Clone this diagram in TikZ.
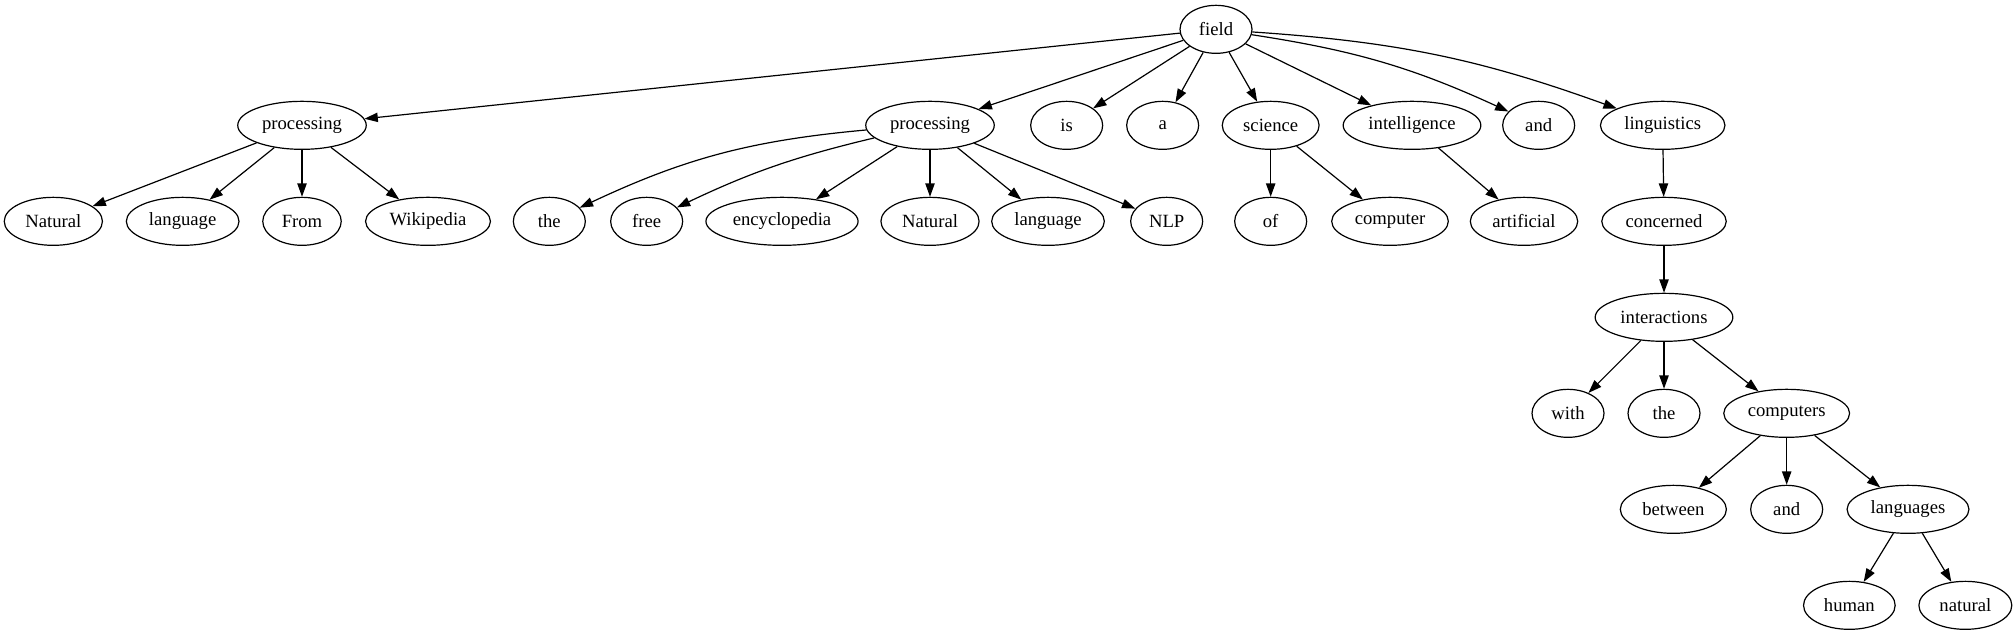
\documentclass[tikz,border=0pt]{standalone}
\usepackage{fontspec}
\setmainfont{Liberation Serif}
\usetikzlibrary{shapes.geometric,arrows.meta}
\tikzset{
  wd/.style={draw, ellipse, line width=0.9pt, inner sep=0pt, minimum height=36pt,
    minimum width={max(54pt,1.27*(width("#1")+16pt))}, node contents={#1}},
  edge/.style={-{Triangle[length=10pt,width=7pt]}, line width=0.9pt}
}
\begin{document}
\begin{tikzpicture}
\fontsize{14pt}{16.8pt}\selectfont
\useasboundingbox (0,0) rectangle (1511.25pt,-476.25pt);
% rank 0
\node (field) at (912pt,-22pt) [wd=field];
% rank 1
\node (pL) at (226.5pt,-94pt) [wd=processing];
\node (pM) at (697.5pt,-94pt) [wd=processing];
\node (is) at (800pt,-94pt) [wd=is];
\node (a) at (872pt,-94pt) [wd=a];
\node (sci) at (953pt,-94pt) [wd=science];
\node (intel) at (1059pt,-94pt) [wd=intelligence];
\node (and1) at (1154pt,-94pt) [wd=and];
\node (ling) at (1247pt,-94pt) [wd=linguistics];
% rank 2
\node (nat1) at (40pt,-166pt) [wd=Natural];
\node (lang1) at (137pt,-166pt) [wd=language];
\node (from) at (226.5pt,-166pt) [wd=From];
\node (wiki) at (321pt,-166pt) [wd=Wikipedia];
\node (the1) at (412pt,-166pt) [wd=the];
\node (free) at (485pt,-166pt) [wd=free];
\node (ency) at (586.5pt,-166pt) [wd=encyclopedia];
\node (nat2) at (697.5pt,-166pt) [wd=Natural];
\node (lang2) at (786pt,-166pt) [wd=language];
\node (nlp) at (875pt,-166pt) [wd=NLP];
\node (of) at (953pt,-166pt) [wd=of];
\node (comp) at (1042.5pt,-166pt) [wd=computer];
\node (arti) at (1143pt,-166pt) [wd=artificial];
\node (conc) at (1248pt,-166pt) [wd=concerned];
% rank 3
\node (inter) at (1248pt,-238pt) [wd=interactions];
% rank 4
\node (with) at (1176pt,-310pt) [wd=with];
\node (the2) at (1248pt,-310pt) [wd=the];
\node (comps) at (1340pt,-310pt) [wd=computers];
% rank 5
\node (betw) at (1255pt,-382pt) [wd=between];
\node (and2) at (1340pt,-382pt) [wd=and];
\node (langs) at (1431pt,-382pt) [wd=languages];
% rank 6
\node (human) at (1387pt,-454pt) [wd=human];
\node (natural) at (1474pt,-454pt) [wd=natural];
% edges
\draw[edge] (field) -- (pL);
\draw[edge] (field) -- (pM);
\draw[edge] (field) -- (is);
\draw[edge] (field) -- (a);
\draw[edge] (field) -- (sci);
\draw[edge] (field) -- (intel);
\draw[edge] (field) to[bend left=8] (and1);
\draw[edge] (field) to[bend left=8] (ling);
\draw[edge] (pL) -- (nat1);
\draw[edge] (pL) -- (lang1);
\draw[edge] (pL) -- (from);
\draw[edge] (pL) -- (wiki);
\draw[edge] (pM) to[bend right=10] (the1);
\draw[edge] (pM) to[bend right=6] (free);
\draw[edge] (pM) -- (ency);
\draw[edge] (pM) -- (nat2);
\draw[edge] (pM) -- (lang2);
\draw[edge] (pM) -- (nlp);
\draw[edge] (sci) -- (of);
\draw[edge] (sci) -- (comp);
\draw[edge] (intel) -- (arti);
\draw[edge] (ling) -- (conc);
\draw[edge] (conc) -- (inter);
\draw[edge] (inter) -- (with);
\draw[edge] (inter) -- (the2);
\draw[edge] (inter) -- (comps);
\draw[edge] (comps) -- (betw);
\draw[edge] (comps) -- (and2);
\draw[edge] (comps) -- (langs);
\draw[edge] (langs) -- (human);
\draw[edge] (langs) -- (natural);
\end{tikzpicture}
\end{document}
